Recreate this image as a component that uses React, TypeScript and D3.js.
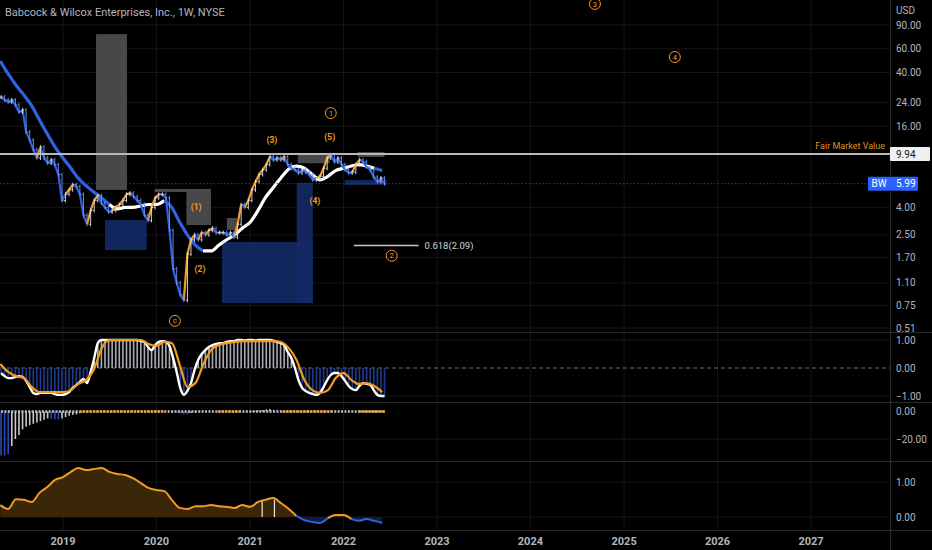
import * as d3 from "d3";

const W = 932;
const H = 550;
const AX = 890;

// weekly chart, sampled every two weeks
const barStart = new Date(2018, 4, 4);
const closes = [
  26.3, 25.0, 24.2, 25.0, 23.0, 20.4, 21.1, 14.5, 12.6, 10.7,
  9.3, 11.2, 9.3, 8.5, 9.0, 8.3, 7.0, 4.5, 5.0, 5.4,
  5.9, 5.7, 5.0, 3.5, 3.0, 3.8, 4.5, 4.9, 4.3, 4.0,
  3.7, 3.8, 4.0, 4.2, 4.5, 5.0, 5.1, 4.8, 4.5, 4.2,
  3.5, 3.2, 4.0, 4.7, 5.0, 5.0, 4.7, 2.7, 1.4, 1.1,
  0.9, 0.82, 1.8, 2.3, 2.5, 2.3, 2.6, 2.5, 2.7, 2.8,
  2.6, 2.6, 2.6, 2.5, 2.6, 2.4, 3.0, 4.2, 4.0, 4.5,
  5.4, 6.2, 7.0, 7.6, 8.3, 9.5, 9.0, 9.3, 9.0, 9.5,
  8.3, 7.8, 7.6, 7.2, 7.6, 7.3, 7.0, 6.4, 6.6, 6.8,
  7.8, 9.3, 9.8, 8.7, 9.3, 8.3, 7.6, 7.2, 7.3, 8.3,
  9.0, 8.7, 8.0, 7.6, 6.7, 6.2, 6.6, 5.99,
];

// monthly series
const monthStart = new Date(2018, 4, 1);
const slowMA = [
  48.7, 39.0, 32.3, 27.3, 22.6, 17.8, 14.0, 11.2,
  9.3, 7.8, 6.6, 5.8, 5.2, 4.7, 4.2, 3.9, 4.0, 4.0, 4.1, 4.2,
  4.2, 4.5, 4.0, 3.1, 2.5, 2.1, 1.9, 1.9, 2.1, 2.3, 2.5, 2.8,
  3.1, 3.8, 4.7, 5.6, 6.6, 7.7, 8.1, 7.8, 7.0, 6.4, 6.8, 7.5,
  7.8, 8.1, 8.3, 8.1, 7.8, 7.5,
];
const slowWhiteRanges = [
  ["2019-07-01", "2020-01-15"],
  ["2020-07-01", "2022-04-15"],
];

const osc1Line = [
  -0.18, -0.29, -0.36, -0.36, -0.32, -0.29, -0.32, -0.46, -0.68, -0.89,
  -0.93, -0.89, -0.89, -0.89, -0.89, -0.93, -0.96, -0.96, -0.93, -0.86,
  -0.71, -0.61, -0.5, -0.39, -0.54, -0.14, 0.36, 0.89, 1.0, 1.0,
  1.0, 1.0, 1.0, 1.0, 1.0, 1.0, 1.0, 1.0, 1.0, 0.96,
  0.93, 0.75, 0.64, 0.82, 0.93, 0.96, 0.93, 0.79, 0.36, -0.14,
  -0.71, -0.96, -0.82, -0.54, -0.07, 0.29, 0.5, 0.64, 0.75, 0.82,
  0.86, 0.89, 0.89, 0.93, 0.96, 0.96, 1.0, 1.0, 0.98, 1.0,
  1.0, 0.98, 1.0, 1.0, 1.0, 1.0, 0.98, 0.93, 0.89, 0.82,
  0.57, 0.36, 0.0, -0.43, -0.71, -0.82, -0.89, -0.93, -0.96, -0.89,
  -0.68, -0.43, -0.25, -0.18, -0.18, -0.29, -0.46, -0.64, -0.75, -0.79,
  -0.64, -0.54, -0.57, -0.61, -0.79, -0.96, -1.0, -1.0,
];
const osc1Signal = [
  0.14, -0.14, -0.29, -0.36, -0.68, -0.86, -0.86, -0.86,
  -0.86, -0.79, -0.57, -0.43, -0.07, 0.71, 1.0, 1.0, 1.0, 1.0, 1.0, 0.86,
  0.79, 0.93, 0.89, 0.11, -0.68, -0.54, 0.11, 0.64, 0.82, 0.89, 0.93, 0.96,
  0.96, 0.96, 0.96, 0.96, 0.93, 0.71, 0.29, -0.43, -0.79, -0.89, -0.79, -0.36,
  -0.18, -0.43, -0.57, -0.54, -0.64, -0.86,
];

const osc2Hist = [
  -32, -32, -31, -25, -20, -17, -13, -11, -10, -9,
  -8, -7, -6, -5, -5.3, -5.6, -5.8, -5, -4, -3,
  -2.5, -2, -1.2, -0.8, -0.6, -0.5, -0.4, -0.3, -0.3, -0.2,
  -0.2, -0.2, -0.1, -0.1, -0.1, 0, 0, 0, 0, 0,
  0, 0, 0, 0, 0, 0, 0, 0, -0.5, -1,
  -1.5, -2, -2.2, -1, -0.5, 0, 0, 0, 0, 0,
  0, 0, 0, 0, 0, 0, 0, 0, 0, 0,
  0.2, 0.5, 0.8, 1, 1.5, 1.8, 1.6, 1.2, 0.6, 0.2,
  0, 0, 0, 0, 0, 0, 0, 0, 0, 0,
  0, 0, 0, 0, 0, 0, 0, 0, 0, 0,
  0, 0, 0, 0, 0, 0, 0, 0,
];
const squeezeOn = [
  ["2019-03-08", "2020-02-07"],
  ["2020-08-28", "2020-11-20"],
  ["2021-05-07", "2021-11-12"],
  ["2022-03-04", "2022-06-12"],
];

const osc3 = [
  0.34, 0.23, 0.51, 0.49, 0.43, 0.69, 0.86, 1.06,
  1.14, 1.29, 1.4, 1.34, 1.37, 1.4, 1.29, 1.23, 1.2, 1.11, 0.97, 0.83,
  0.77, 0.74, 0.49, 0.26, 0.23, 0.31, 0.31, 0.34, 0.31, 0.29, 0.26, 0.34,
  0.29, 0.43, 0.49, 0.54, 0.4, 0.23, 0.03, -0.09, -0.14, -0.17, -0.03, 0.06,
  0.06, -0.06, -0.11, -0.06, -0.11, -0.17,
];
const osc3Marks = ["2021-02-17", "2021-04-06"];

const grayZones = [
  ["2019-05-10", "2019-09-08", 77, 5.39],
  ["2019-12-25", "2020-08-01", 5.48, 2.96],
  ["2020-10-02", "2020-11-10", 3.34, 2.72],
  ["2021-07-06", "2021-11-08", 9.8, 8.5],
  ["2022-02-25", "2022-06-10", 10.3, 9.45],
];
const maskZones = [["2019-12-25", "2020-04-27", 5.2, 2.93]];
const blueZones = [
  ["2019-06-14", "2019-11-24", 3.23, 1.93],
  ["2020-09-13", "2021-09-03", 2.22, 0.78],
  ["2021-07-02", "2021-09-03", 6.08, 0.78],
  ["2022-01-06", "2022-06-19", 6.39, 5.87],
];

const waveTexts = ["(1)", "(2)", "(3)", "(4)", "(5)", "c", "1", "2", "3", "4"];
const waveCircled = [false, false, false, false, false, true, true, true, true, true];
const waveDates = [
  "2020-06-04", "2020-06-19", "2021-03-27", "2021-09-11", "2021-11-08",
  "2020-03-13", "2021-11-12", "2022-07-08", "2024-09-09", "2025-07-18",
];
const wavePrices = [4.03, 1.4, 12.6, 4.47, 13.3, 0.576, 20.0, 1.75, 129, 52.1];

const fairValue = 9.94;
const lastPrice = 5.99;
const fibRange = ["2022-02-10", "2022-10-21"];
const fibPrice = 2.09;

const years = [2019, 2020, 2021, 2022, 2023, 2024, 2025, 2026, 2027];
const priceTicks = [90, 60, 40, 24, 16, 4, 2.5, 1.7, 1.1, 0.75, 0.51];
const osc1Ticks = [1, 0, -1];
const osc2Ticks = [0, -20];
const osc3Ticks = [1, 0];

const ORANGE = "#f29c1f";
const BLUE = "#2f62e3";
const TXT = "#b2b5be";
const GRID = "#161616";
const SEP = "#2a2a2a";
const FONT = "Roboto, 'DejaVu Sans', sans-serif";

const parse = d3.timeParse("%Y-%m-%d");
const barDates = closes.map((_, i) => d3.timeDay.offset(barStart, 14 * i));
const monthDates = slowMA.map((_, k) => d3.timeMonth.offset(monthStart, k));

const x = d3
  .scaleTime()
  .domain([new Date(2019, 0, 1), new Date(2027, 0, 1)])
  .range([63, 811]);
const yP = d3.scaleLog().domain([0.51, 90]).range([328, 25]);
const y1 = d3.scaleLinear().domain([-1, 1]).range([396, 340]);
const y2 = d3.scaleLinear().domain([-20, 0]).range([439, 411.5]);
const y3 = d3.scaleLinear().domain([0, 1]).range([517, 482]);

type Pt = [number, number];

// split a polyline into same-coloured runs
function runs(pts: Pt[], colorOf: (i: number) => string) {
  const out: { color: string; pts: Pt[] }[] = [];
  for (let i = 0; i < pts.length - 1; i++) {
    const c = colorOf(i);
    const last = out[out.length - 1];
    if (last && last.color === c) last.pts.push(pts[i + 1]);
    else out.push({ color: c, pts: [pts[i], pts[i + 1]] });
  }
  return out;
}

const smooth = d3.line<Pt>().curve(d3.curveMonotoneX);
const straight = d3.line<Pt>();

const inRanges = (d: Date, ranges: string[][]) =>
  ranges.some(([a, b]) => d >= parse(a)! && d <= parse(b)!);

const fmt = (v: number) => (v < 0 ? "\u2212" + Math.abs(v).toFixed(2) : v.toFixed(2));

// the fast line only turns orange on a sustained rise
const rising = (i: number) =>
  closes[i + 1] > closes[i] && closes[i + 1] > closes[Math.max(i - 1, 0)];

function Zone({ z, fill, opacity }: { z: (string | number)[]; fill: string; opacity: number }) {
  const x0 = x(parse(z[0] as string)!);
  const x1 = x(parse(z[1] as string)!);
  const yt = yP(z[2] as number);
  const yb = yP(z[3] as number);
  return <rect x={x0} y={yt} width={x1 - x0} height={yb - yt} fill={fill} opacity={opacity} />;
}

export default function App() {
  const closePts: Pt[] = closes.map((c, i) => [x(barDates[i]), yP(c)]);
  const fastRuns = runs(closePts, (i) => (rising(i) ? ORANGE : BLUE));
  const slowPts: Pt[] = slowMA.map((v, k) => [x(monthDates[k]), yP(v)]);
  const slowRuns = runs(slowPts, (k) => (inRanges(monthDates[k], slowWhiteRanges) ? "#ffffff" : BLUE));

  const osc1Pts: Pt[] = osc1Line.map((v, i) => [x(barDates[i]), y1(v)]);
  const sigPts: Pt[] = osc1Signal.map((v, k) => [x(monthDates[k]), y1(v)]);

  const osc3Pts: Pt[] = osc3.map((v, k) => [x(monthDates[k]), y3(v)]);
  const osc3Runs = runs(osc3Pts, (k) => (osc3[k] + osc3[k + 1] >= 0 ? ORANGE : BLUE));
  const posArea = d3
    .area<number>()
    .x((_, k) => x(monthDates[k]))
    .y0(y3(0))
    .y1((v) => y3(Math.max(v, 0)))
    .curve(d3.curveMonotoneX);
  const negArea = d3
    .area<number>()
    .x((_, k) => x(monthDates[k]))
    .y0(y3(0))
    .y1((v) => y3(Math.min(v, 0)))
    .curve(d3.curveMonotoneX);

  const lastX = x(barDates[barDates.length - 1]);

  return (
    <svg
      width={W}
      height={H}
      style={{ position: "absolute", left: 0, top: 0, background: "#000" }}
      fontFamily={FONT}
    >
      <defs>
        <clipPath id="main">
          <rect x={0} y={0} width={AX} height={332} />
        </clipPath>
      </defs>
      <rect width={W} height={H} fill="#000" />

      {/* grid */}
      {years.map((yr) => (
        <line key={yr} x1={x(new Date(yr, 0, 1))} x2={x(new Date(yr, 0, 1))} y1={0} y2={530} stroke={GRID} />
      ))}
      {priceTicks.map((t) => (
        <line key={t} x1={0} x2={AX} y1={yP(t)} y2={yP(t)} stroke={GRID} />
      ))}
      {[1, -1].map((t) => (
        <line key={t} x1={0} x2={AX} y1={y1(t)} y2={y1(t)} stroke={GRID} />
      ))}
      <line x1={0} x2={AX} y1={y2(-20)} y2={y2(-20)} stroke={GRID} />
      {osc3Ticks.map((t) => (
        <line key={t} x1={0} x2={AX} y1={y3(t)} y2={y3(t)} stroke={GRID} />
      ))}

      {/* main pane */}
      <g clipPath="url(#main)">
        {grayZones.map((z, i) => (
          <Zone key={"g" + i} z={z} fill="#4c4c4c" opacity={0.95} />
        ))}
        {maskZones.map((z, i) => (
          <Zone key={"m" + i} z={z} fill="#000" opacity={1} />
        ))}
        {blueZones.map((z, i) => (
          <Zone key={"b" + i} z={z} fill="#142a68" opacity={0.9} />
        ))}

        {slowRuns.map((r, i) => (
          <path key={"s" + i} d={smooth(r.pts)!} fill="none" stroke={r.color} strokeWidth={3.2} strokeLinejoin="round" />
        ))}
        {fastRuns.map((r, i) => (
          <path key={"f" + i} d={straight(r.pts)!} fill="none" stroke={r.color} strokeWidth={2.2} strokeLinejoin="round" />
        ))}

        {/* OHLC bars */}
        {closes.map((c, i) => {
          const o = i > 0 ? closes[i - 1] : c;
          const xx = x(barDates[i]);
          const up = c >= o;
          const col = up ? "#dfe2ea" : "#6d93f0";
          return (
            <g key={i} stroke={col} strokeWidth={1} opacity={0.9}>
              <line x1={xx} x2={xx} y1={yP(Math.max(o, c)) - 2} y2={yP(Math.min(o, c)) + 2} />
              <line x1={xx - 1.5} x2={xx} y1={yP(o)} y2={yP(o)} />
              <line x1={xx} x2={xx + 1.5} y1={yP(c)} y2={yP(c)} />
            </g>
          );
        })}

        {/* fair value & last price lines */}
        <line x1={0} x2={AX} y1={yP(fairValue)} y2={yP(fairValue)} stroke="#b9b9b9" strokeWidth={2} />
        <line x1={0} x2={AX} y1={yP(lastPrice)} y2={yP(lastPrice)} stroke="#2c3f9c" strokeWidth={1} strokeDasharray="1.5,2" />
        <line
          x1={x(parse(fibRange[0])!)}
          x2={x(parse(fibRange[1])!)}
          y1={yP(fibPrice)}
          y2={yP(fibPrice)}
          stroke="#c8c8c8"
          strokeWidth={1.5}
        />
        <text x={x(parse(fibRange[1])!) + 6} y={yP(fibPrice)} dy="0.35em" fill="#d1d4dc" fontSize={9.5}>
          {`0.618(${fibPrice.toFixed(2)})`}
        </text>
        <text x={AX - 5} y={yP(fairValue) - 5} textAnchor="end" fill="#d99325" fontSize={9}>
          Fair Market Value
        </text>

        {waveTexts.map((t, i) => {
          const cx = x(parse(waveDates[i])!);
          const cy = yP(wavePrices[i]);
          return waveCircled[i] ? (
            <g key={i}>
              <circle cx={cx} cy={cy} r={5.5} fill="none" stroke={ORANGE} strokeWidth={1} />
              <text x={cx} y={cy} dy="0.35em" textAnchor="middle" fill={ORANGE} fontSize={7.5}>
                {t}
              </text>
            </g>
          ) : (
            <text key={i} x={cx} y={cy} dy="0.35em" textAnchor="middle" fill={ORANGE} fontSize={8.5} fontWeight="bold">
              {t}
            </text>
          );
        })}
      </g>

      <text x={5} y={16} fill={TXT} fontSize={11}>
        Babcock &amp; Wilcox Enterprises, Inc., 1W, NYSE
      </text>

      {/* oscillator 1 */}
      <line x1={0} x2={AX} y1={y1(0)} y2={y1(0)} stroke="#7d6c45" strokeDasharray="4,3" />
      {osc1Line.map((v, i) => (
        <line
          key={i}
          x1={x(barDates[i])}
          x2={x(barDates[i])}
          y1={y1(0)}
          y2={y1(v)}
          stroke={v >= 0 ? "#a9acb4" : "#1f3a8f"}
          strokeWidth={1.6}
        />
      ))}
      <path d={smooth(osc1Pts)!} fill="none" stroke="#ffffff" strokeWidth={2.4} />
      <path d={smooth(sigPts)!} fill="none" stroke={ORANGE} strokeWidth={2.2} />

      {/* oscillator 2 */}
      {osc2Hist.map((v, i) => {
        const prev = i > 0 ? osc2Hist[i - 1] : v;
        const col = v < prev || i < 3 ? "#2a49b8" : "#c9c9c9";
        return (
          <line
            key={i}
            x1={x(barDates[i])}
            x2={x(barDates[i])}
            y1={y2(0)}
            y2={y2(v)}
            stroke={col}
            strokeWidth={1.6}
          />
        );
      })}
      <line
        x1={x(barDates[0])}
        x2={lastX}
        y1={y2(0)}
        y2={y2(0)}
        stroke="#c4c4c4"
        strokeWidth={2.4}
        strokeDasharray="2,1.4"
      />
      {squeezeOn.map(([a, b], i) => (
        <line
          key={i}
          x1={x(parse(a)!)}
          x2={x(parse(b)!)}
          y1={y2(0)}
          y2={y2(0)}
          stroke={ORANGE}
          strokeWidth={2.6}
          strokeDasharray="2,1.4"
        />
      ))}

      {/* oscillator 3 */}
      <path d={posArea(osc3)!} fill="#3a2708" />
      <path d={negArea(osc3)!} fill="#0e1c40" />
      {osc3Marks.map((m, i) => {
        const xx = x(parse(m)!);
        return <line key={i} x1={xx} x2={xx} y1={y3(0)} y2={y3(0.49)} stroke="#e6e6e6" strokeWidth={1.2} />;
      })}
      {osc3Runs.map((r, i) => (
        <path key={i} d={smooth(r.pts)!} fill="none" stroke={r.color} strokeWidth={2} />
      ))}

      {/* separators */}
      {[332.5, 402.5, 461.5, 530.5].map((yy) => (
        <line key={yy} x1={0} x2={W} y1={yy} y2={yy} stroke={SEP} strokeWidth={1.2} />
      ))}
      <line x1={AX + 0.5} x2={AX + 0.5} y1={0} y2={H} stroke={SEP} strokeWidth={1.2} />

      {/* right axes */}
      <g fill={TXT} fontSize={10}>
        <text x={896} y={10} dy="0.35em">
          USD
        </text>
        {priceTicks.map((t) => (
          <text key={t} x={896} y={yP(t)} dy="0.35em">
            {fmt(t)}
          </text>
        ))}
        {osc1Ticks.map((t) => (
          <text key={t} x={896} y={y1(t)} dy="0.35em">
            {fmt(t)}
          </text>
        ))}
        {osc2Ticks.map((t) => (
          <text key={t} x={896} y={y2(t)} dy="0.35em">
            {fmt(t)}
          </text>
        ))}
        {osc3Ticks.map((t) => (
          <text key={t} x={896} y={y3(t)} dy="0.35em">
            {fmt(t)}
          </text>
        ))}
      </g>

      {/* price tags */}
      <rect x={AX} y={yP(fairValue) - 7} width={40} height={14} fill="#f0f0f0" rx={1} />
      <text x={896} y={yP(fairValue)} dy="0.35em" fill="#131722" fontSize={10}>
        {fairValue.toFixed(2)}
      </text>
      <rect x={AX - 22} y={yP(lastPrice) - 7} width={22} height={14} fill="#2962ff" rx={1} />
      <text x={AX - 11} y={yP(lastPrice)} dy="0.35em" fill="#fff" textAnchor="middle" fontSize={10}>
        BW
      </text>
      <rect x={AX} y={yP(lastPrice) - 7} width={28} height={14} fill="#2962ff" rx={1} />
      <text x={896} y={yP(lastPrice)} dy="0.35em" fill="#fff" fontSize={10}>
        {lastPrice.toFixed(2)}
      </text>

      {/* time axis */}
      {years.map((yr) => (
        <text
          key={yr}
          x={x(new Date(yr, 0, 1))}
          y={541}
          dy="0.35em"
          textAnchor="middle"
          fill={TXT}
          fontSize={11}
          fontWeight="bold"
        >
          {yr}
        </text>
      ))}
    </svg>
  );
}
